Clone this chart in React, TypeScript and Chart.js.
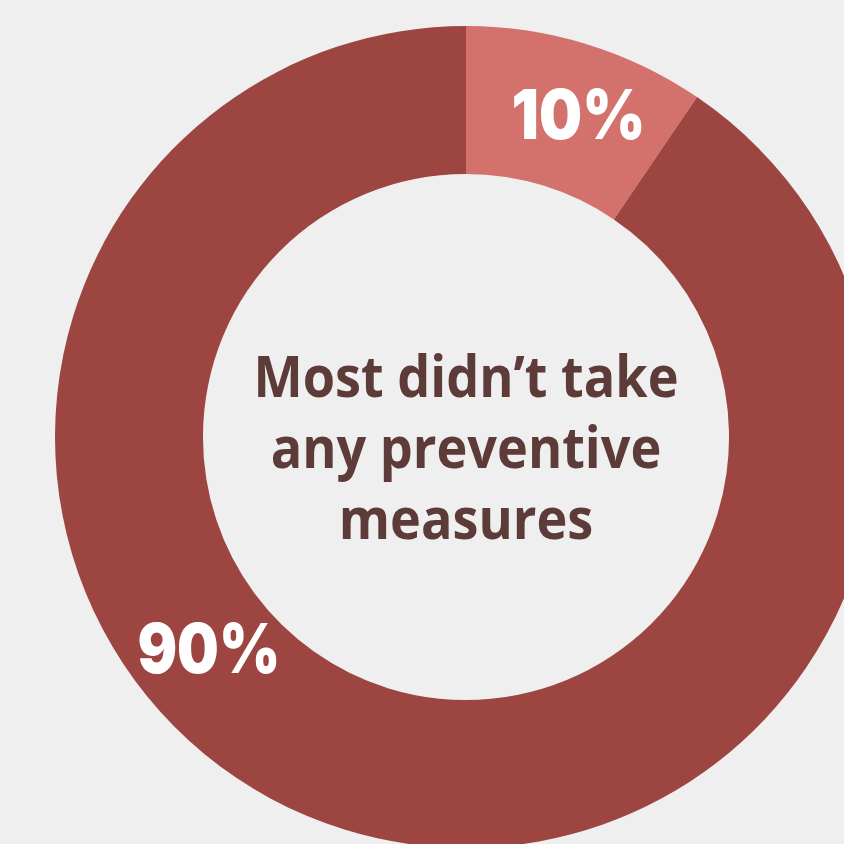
import React, { useEffect, useRef } from "react";
import { Chart, registerables } from "chart.js";

Chart.register(...registerables);

const categories = ["Took preventive measures", "Didn't take any preventive measures"];
const values = [9.5, 90.5];
const valueLabels = ["10%", "90%"];
const colors = ["#d3716c", "#9d4541"];
const centerLines = ["Most didn\u2019t take", "any preventive", "measures"];

// label placement: fraction along each slice's arc, radial offset, target width
const labelFractions = [0.565, 0.602];
const labelRadialOffsets = [3, -3];
const labelWidths = [134, 143];

const labelPlugin = {
  id: "donutLabels",
  afterDraw(chart: any) {
    const ctx = chart.ctx;
    const meta = chart.getDatasetMeta(0);
    ctx.save();
    meta.data.forEach((arc: any, i: number) => {
      const { x, y, startAngle, endAngle, innerRadius, outerRadius } = arc.getProps(
        ["x", "y", "startAngle", "endAngle", "innerRadius", "outerRadius"],
        true
      );
      const a = startAngle + (endAngle - startAngle) * labelFractions[i];
      const r = (innerRadius + outerRadius) / 2 + labelRadialOffsets[i];
      const lx = x + Math.cos(a) * r;
      const ly = y + Math.sin(a) * r;
      ctx.fillStyle = "#ffffff";
      ctx.font = "900 69px Inter";
      ctx.textAlign = "center";
      ctx.textBaseline = "middle";
      const w = ctx.measureText(valueLabels[i]).width;
      const sx = labelWidths[i] / w;
      ctx.save();
      ctx.translate(lx, ly + 2);
      ctx.scale(sx, 1);
      ctx.fillText(valueLabels[i], 0, 0);
      ctx.restore();
    });
    const first = meta.data[0];
    const cx = first.x;
    const cy = first.y;
    ctx.fillStyle = "#5c3b38";
    ctx.font = "bold 58px 'Open Sans'";
    ctx.textAlign = "center";
    ctx.textBaseline = "alphabetic";
    const w0 = ctx.measureText(centerLines[0]).width;
    const sx = Math.min(1, 425 / w0);
    const lh = 71;
    centerLines.forEach((line, i) => {
      ctx.save();
      ctx.translate(cx, cy + (i - 1) * lh + 31);
      ctx.scale(sx, 1);
      ctx.fillText(line, 0, 0);
      ctx.restore();
    });
    ctx.restore();
  },
};

export default function App() {
  const ref = useRef<HTMLCanvasElement>(null);
  useEffect(() => {
    if (!ref.current) return;
    const chart = new Chart(ref.current, {
      type: "doughnut",
      data: {
        labels: categories,
        datasets: [
          {
            data: values,
            backgroundColor: colors,
            borderWidth: 0,
          },
        ],
      },
      options: {
        responsive: false,
        animation: false,
        cutout: "64%",
        layout: { padding: 0 },
        plugins: {
          legend: { display: false },
          tooltip: { enabled: false },
        },
      },
      plugins: [labelPlugin],
    });
    return () => chart.destroy();
  }, []);
  return (
    <div
      style={{
        position: "fixed",
        left: 0,
        top: 0,
        width: 844,
        height: 844,
        overflow: "hidden",
        background: "#efefef",
      }}
    >
      <canvas
        ref={ref}
        width={822}
        height={822}
        style={{ position: "absolute", left: 55, top: 26, width: 822, height: 822 }}
      />
    </div>
  );
}
